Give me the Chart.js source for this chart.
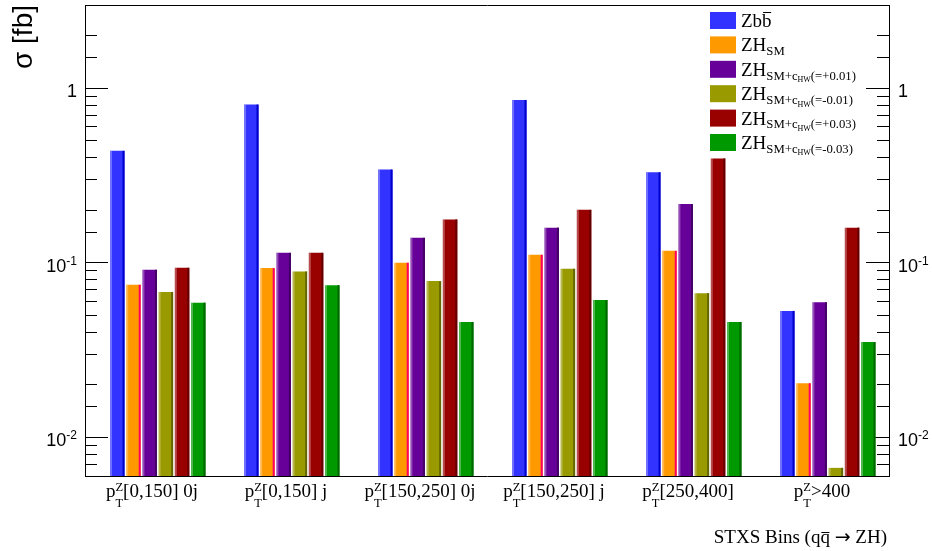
<!DOCTYPE html>
<html lang="en">
<head>
<meta charset="UTF-8">
<title>STXS bins - ZH cross sections</title>
<script src="https://cdn.jsdelivr.net/npm/chart.js"></script>
<style>
  body { margin: 0; background: #ffffff; }
  #wrap { width: 932px; height: 551px; position: relative; }
</style>
</head>
<body>
<div id="wrap"><canvas id="stxs"></canvas></div>
<script>
// values (fb), one entry per STXS bin
const categories = ['p^{Z}_{T}[0,150] 0j', 'p^{Z}_{T}[0,150] j', 'p^{Z}_{T}[150,250] 0j',
                    'p^{Z}_{T}[150,250] j', 'p^{Z}_{T}[250,400]', 'p^{Z}_{T}>400'];
const seriesNames = ['Zb#bar{b}', 'ZH_{SM}', 'ZH_{SM+c_{HW}(=+0.01)}', 'ZH_{SM+c_{HW}(=-0.01)}',
                     'ZH_{SM+c_{HW}(=+0.03)}', 'ZH_{SM+c_{HW}(=-0.03)}'];
const zbb    = [0.438, 0.806, 0.342, 0.857, 0.330, 0.053];
const zhSM   = [0.0748, 0.0932, 0.100, 0.111, 0.117, 0.0204];
const zhP001 = [0.0912, 0.114, 0.139, 0.159, 0.217, 0.0594];
const zhM001 = [0.0681, 0.0891, 0.0785, 0.0924, 0.067, 0.00668];
const zhP003 = [0.0936, 0.114, 0.177, 0.201, 0.396, 0.159];
const zhM003 = [0.0591, 0.0744, 0.0458, 0.0611, 0.0458, 0.0351];
const yMajorTicks = [1, 0.1, 0.01];
const yTickLabels = ['1', '10^{-1}', '10^{-2}'];
const yMin = 0.006, yMax = 3;
const xTitle = 'STXS Bins (q#bar{q} #rightarrow ZH)';
const yTitle = '\u03c3 [fb]';

const colors = ['#3333ff', '#ff9900', '#660099', '#999900', '#990000', '#009900'];
const edgeDark = ['#0000cc', '#ff0066', '#440066', '#666600', '#660000', '#006600'];
const barShift = 0.043;   // ROOT draws the bar group slightly right of the bin centre

// --- tiny ROOT-latex renderer: _{ } ^{ } #bar{ } #rightarrow ---
function closeBrace(s, open) {
  let d = 0;
  for (let i = open; i < s.length; i++) {
    if (s[i] === '{') d++;
    else if (s[i] === '}') { d--; if (d === 0) return i; }
  }
  return s.length;
}
function parseTex(src) {
  const atoms = [];
  function run(str, shifts, over) {
    let buf = '';
    const flush = () => { if (buf) atoms.push({ t: buf, shifts: shifts.slice(), over }); buf = ''; };
    let i = 0;
    while (i < str.length) {
      const c = str[i];
      if ((c === '_' || c === '^') && str[i + 1] === '{') {
        flush();
        const j = closeBrace(str, i + 1);
        const kind = c === '_' ? 'sub' : 'sup';
        const nx = str[j + 1];
        if ((nx === '_' || nx === '^') && nx !== c && str[j + 2] === '{') {
          const k = closeBrace(str, j + 2);
          atoms.push({ mark: 'ss' });
          run(str.slice(i + 2, j), shifts.concat(kind), over);
          atoms.push({ mark: 'sm' });
          run(str.slice(j + 3, k), shifts.concat(nx === '_' ? 'sub' : 'sup'), over);
          atoms.push({ mark: 'se' });
          i = k + 1;
        } else {
          run(str.slice(i + 2, j), shifts.concat(kind), over);
          i = j + 1;
        }
      } else if (str.startsWith('#bar{', i)) {
        flush();
        const j = closeBrace(str, i + 4);
        run(str.slice(i + 5, j), shifts, true);
        i = j + 1;
      } else if (str.startsWith('#rightarrow', i)) {
        flush();
        atoms.push({ t: '\u2192', shifts: shifts.slice(), over: false, sym: true });
        i += 11;
      } else { buf += c; i++; }
    }
    flush();
  }
  run(src, [], false);
  return atoms;
}
function texRun(ctx, src, x, y, o) {
  const atoms = parseTex(src);
  const scale = o.scale || [1, 0.66, 0.42];
  const size = l => Math.max(o.size * scale[Math.min(l, scale.length - 1)], 7);
  const walk = (ox, draw) => {
    let cx = 0, x0 = 0, x1 = 0;
    atoms.forEach(a => {
      if (a.mark === 'ss') { x0 = cx; return; }
      if (a.mark === 'sm') { x1 = cx; cx = x0; return; }
      if (a.mark === 'se') { cx = Math.max(cx, x1); return; }
      const fs = size(a.shifts.length);
      let dy = 0;
      a.shifts.forEach((s, k) => { dy += (s === 'sub' ? o.sub : o.sup) * size(k); });
      ctx.font = fs + 'px ' + (a.sym ? '"DejaVu Sans", sans-serif' : o.family);
      const m = ctx.measureText(a.t);
      if (draw) {
        ctx.fillText(a.t, ox + cx, y + dy);
        if (a.over) {
          const ly = Math.round(y + dy - m.actualBoundingBoxAscent - fs * 0.1) + 0.5;
          ctx.beginPath();
          ctx.lineWidth = 1;
          ctx.moveTo(ox + cx + m.width * 0.1, ly);
          ctx.lineTo(ox + cx + m.width * 0.95, ly);
          ctx.stroke();
        }
      }
      cx += m.width;
    });
    return cx;
  };
  const w = walk(0, false);
  const ox = o.align === 'right' ? x - w : o.align === 'center' ? x - w / 2 : x;
  walk(ox, true);
}

const isDecade = v => Math.abs(Math.log10(v) - Math.round(Math.log10(v))) < 1e-6;

const rootText = {
  id: 'rootText',
  afterDatasetsDraw(chart) {
    const ctx = chart.ctx;
    // bar shading (light left edge, dark right edge)
    chart.data.datasets.forEach((ds, di) => {
      chart.getDatasetMeta(di).data.forEach(bar => {
        const p = bar.getProps(['x', 'y', 'base', 'width'], true);
        const l = p.x - p.width / 2, h = p.base - p.y;
        ctx.fillStyle = 'rgba(255,255,255,0.3)';
        ctx.fillRect(l, p.y, 2, h);
        ctx.fillStyle = edgeDark[di];
        ctx.fillRect(p.x + p.width / 2 - 2, p.y, 2, h);
      });
    });
  },
  afterDraw(chart) {
    const ctx = chart.ctx;
    ctx.save();
    ctx.fillStyle = '#000';
    ctx.strokeStyle = '#000';
    ctx.textBaseline = 'alphabetic';
    const ys = chart.scales.y, xs = chart.scales.x;
    yMajorTicks.forEach((v, i) => {
      const py = ys.getPixelForValue(v);
      const o = { size: 18, family: '"Liberation Sans", Arial, sans-serif', sup: -0.4, sub: 0.3, scale: [1, 0.67] };
      texRun(ctx, yTickLabels[i], 77, py + 9, Object.assign({ align: 'right' }, o));
      texRun(ctx, yTickLabels[i], 898, py + 9, Object.assign({ align: 'left' }, o));
    });
    categories.forEach((c, i) => {
      texRun(ctx, c, xs.getPixelForValue(i), 497, { size: 19, family: '"Liberation Serif", serif',
        sup: -0.3, sub: 0.5, scale: [1, 0.66], align: 'center' });
    });
    texRun(ctx, xTitle, 887, 543, { size: 19, family: '"Liberation Serif", serif', sup: -0.35, sub: 0.3, align: 'right' });
    // legend
    seriesNames.forEach((name, i) => {
      const top = 12 + i * 24.4;
      ctx.fillStyle = colors[i];
      ctx.fillRect(710, top, 26, 17);
      ctx.fillStyle = '#000';
      texRun(ctx, name, 741, top + 15, { size: 19, family: '"Liberation Serif", serif',
        sup: -0.35, sub: 0.2, scale: [1, 0.67, 0.42] });
    });
    ctx.restore();
  }
};

const datasets = [zbb, zhSM, zhP001, zhM001, zhP003, zhM003].map((vals, i) => ({
  label: seriesNames[i],
  data: vals.map((v, j) => ({ x: j, y: v })),
  backgroundColor: colors[i],
  borderWidth: 0,
  xAxisID: 'xb',
  yAxisID: 'y',
  categoryPercentage: 0.725,
  barPercentage: 0.895
}));

const logAxis = (pos, weight, major) => ({
  type: 'logarithmic',
  position: pos,
  weight: weight,
  min: yMin,
  max: yMax,
  grid: {
    display: true,
    drawOnChartArea: false,
    drawTicks: true,
    tickLength: major ? -23 : -12,
    tickWidth: 1,
    tickColor: major ? (c => (c.tick && isDecade(c.tick.value)) ? '#000' : 'rgba(0,0,0,0)') : '#000'
  },
  border: { display: major, color: '#000', width: 1 },
  ticks: { display: false, autoSkip: false }
});

const yLeft = logAxis('left', 1, true);
yLeft.afterFit = s => { s.width = 85; };
yLeft.title = { display: true, text: yTitle, align: 'end', color: '#000',
                font: { family: '"Liberation Sans", Arial, sans-serif', size: 28 }, padding: { top: 7, bottom: 0 } };
const yLeftMinor = logAxis('left', 0, false);
yLeftMinor.afterFit = s => { s.width = 0; };
const yRight = logAxis('right', 1, true);
yRight.afterFit = s => { s.width = 43; };
const yRightMinor = logAxis('right', 0, false);
yRightMinor.afterFit = s => { s.width = 0; };

new Chart(document.getElementById('stxs'), {
  type: 'bar',
  data: { labels: categories, datasets: datasets },
  options: {
    responsive: true,
    maintainAspectRatio: false,
    animation: false,
    layout: { padding: 0 },
    plugins: { legend: { display: false }, tooltip: { enabled: false } },
    scales: {
      xb: { type: 'linear', display: false, offset: false, min: -0.5 - barShift, max: 5.5 - barShift,
            ticks: { stepSize: 1, includeBounds: false } },
      x: { type: 'category', position: 'bottom', offset: true,
           grid: { display: false }, border: { color: '#000', width: 1 },
           ticks: { display: false }, afterFit: s => { s.height = 75; } },
      xt: { type: 'category', position: 'top', offset: true,
            grid: { display: false }, border: { color: '#000', width: 1 },
            ticks: { display: false }, afterFit: s => { s.height = 5; } },
      y: yLeft,
      ym: yLeftMinor,
      yr: yRight,
      yrm: yRightMinor
    }
  },
  plugins: [rootText]
});
</script>
</body>
</html>
